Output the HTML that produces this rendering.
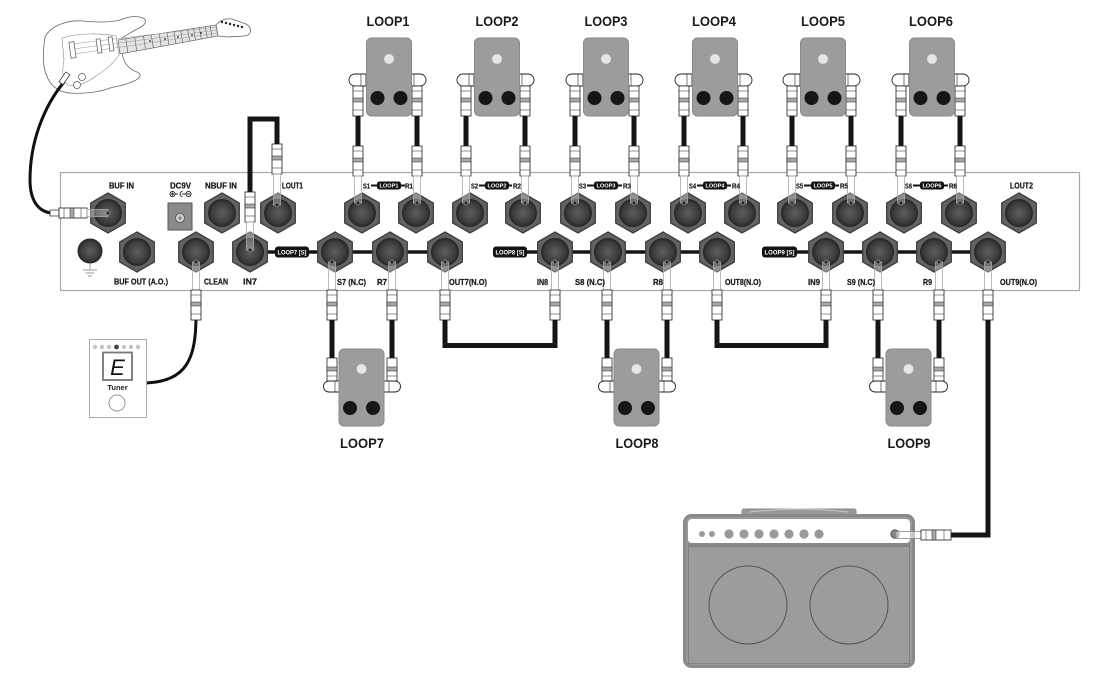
<!DOCTYPE html>
<html><head><meta charset="utf-8">
<style>
html,body{margin:0;padding:0;background:#fff;}
svg{display:block;}
.t{font-family:"Liberation Sans Narrow","Liberation Sans",sans-serif;font-weight:bold;font-size:8.5px;fill:#1a1a1a;stroke:#1a1a1a;stroke-width:.25px;}
.ts{font-family:"Liberation Sans Narrow","Liberation Sans",sans-serif;font-weight:bold;font-size:7px;fill:#1a1a1a;stroke:#1a1a1a;stroke-width:.2px;}
.tg{font-family:"Liberation Sans Narrow","Liberation Sans",sans-serif;font-weight:bold;fill:#fff;}
.lp{font-family:"Liberation Sans",sans-serif;font-weight:bold;font-size:14px;fill:#1a1a1a;}
</style></head><body>
<svg width="1100" height="687" viewBox="0 0 1100 687" xmlns="http://www.w3.org/2000/svg" xmlns:xlink="http://www.w3.org/1999/xlink">
<defs>
<radialGradient id="jg" cx="50%" cy="50%" r="50%">
<stop offset="0%" stop-color="#5e5e5e"/><stop offset="75%" stop-color="#3c3c3c"/><stop offset="100%" stop-color="#2a2a2a"/>
</radialGradient>
<g id="jack">
<polygon points="0,-20 17.3,-10 17.3,10 0,20 -17.3,10 -17.3,-10" fill="#626262" stroke="#3e3e3e" stroke-width="1.3"/>
<circle r="13.5" fill="url(#jg)" stroke="#262626" stroke-width="1"/>
</g>
<g id="pb">
<rect x="-5" y="0" width="10" height="30" fill="#fff" stroke="#222" stroke-width=".8"/>
<rect x="-5" y="12" width="10" height="4" fill="#a8a8a8" stroke="#222" stroke-width=".5"/>
<line x1="-5" x2="5" y1="5" y2="5" stroke="#222" stroke-width=".5"/>
<line x1="-5" x2="5" y1="24" y2="24" stroke="#222" stroke-width=".5"/>
</g>
<g id="pbs">
<rect x="-5" y="0" width="10" height="23" fill="#fff" stroke="#222" stroke-width=".8"/>
<rect x="-5" y="9" width="10" height="4" fill="#a8a8a8" stroke="#222" stroke-width=".5"/>
<line x1="-5" x2="5" y1="18" y2="18" stroke="#222" stroke-width=".5"/>
</g>
<g id="cabTL">
<path d="M8,74 H-3 A6,6 0 0 0 -3,86 H8 Z" fill="#fff" stroke="#222" stroke-width=".9"/>
<line x1="3" y1="74" x2="3" y2="86" stroke="#222" stroke-width=".6"/>
<use href="#pb" xlink:href="#pb" y="86"/>
<rect x="-2.5" y="116" width="5" height="30" fill="#151515"/>
<use href="#pb" xlink:href="#pb" y="146"/>
<rect x="-3.5" y="176" width="7" height="27" fill="rgba(255,255,255,.3)" stroke="#aaa" stroke-width=".8"/>
<circle cy="203" r="2" fill="#2a2a2a" stroke="#aaa" stroke-width=".6"/>
</g>
<g id="cabTR">
<path d="M-8,74 H3 A6,6 0 0 1 3,86 H-8 Z" fill="#fff" stroke="#222" stroke-width=".9"/>
<line x1="-3" y1="74" x2="-3" y2="86" stroke="#222" stroke-width=".6"/>
<use href="#pb" xlink:href="#pb" y="86"/>
<rect x="-2.5" y="116" width="5" height="30" fill="#151515"/>
<use href="#pb" xlink:href="#pb" y="146"/>
<rect x="-3.5" y="176" width="7" height="27" fill="rgba(255,255,255,.3)" stroke="#aaa" stroke-width=".8"/>
<circle cy="203" r="2" fill="#2a2a2a" stroke="#aaa" stroke-width=".6"/>
</g>
<g id="plugD">
<rect x="-3.5" y="262" width="7" height="29" fill="rgba(255,255,255,.3)" stroke="#aaa" stroke-width=".8"/>
<circle cy="262" r="2" fill="#2a2a2a" stroke="#aaa" stroke-width=".6"/>
<use href="#pb" xlink:href="#pb" y="290"/>
</g>
<g id="cabBL">
<rect x="-2.5" y="319" width="5" height="40" fill="#151515"/>
<use href="#plugD" xlink:href="#plugD"/>
<use href="#pbs" xlink:href="#pbs" y="358"/>
<path d="M8,381 H-3 A5.5,5.5 0 0 0 -3,392 H8 Z" fill="#fff" stroke="#222" stroke-width=".9"/>
<line x1="3" y1="381" x2="3" y2="392" stroke="#222" stroke-width=".6"/>
</g>
<g id="cabBR">
<rect x="-2.5" y="319" width="5" height="40" fill="#151515"/>
<use href="#plugD" xlink:href="#plugD"/>
<use href="#pbs" xlink:href="#pbs" y="358"/>
<path d="M-8,381 H3 A5.5,5.5 0 0 1 3,392 H-8 Z" fill="#fff" stroke="#222" stroke-width=".9"/>
<line x1="-3" y1="381" x2="-3" y2="392" stroke="#222" stroke-width=".6"/>
</g>
<g id="pedT">
<rect x="-22.5" y="38" width="45" height="78" rx="5" fill="#9c9c9c" stroke="#8a8a8a" stroke-width="1"/>
<circle cx="0" cy="59" r="5" fill="#e6e6e6" stroke="#bbb" stroke-width=".5"/>
<circle cx="-11.5" cy="98" r="7" fill="#161616"/>
<circle cx="11.5" cy="98" r="7" fill="#161616"/>
</g>
<g id="pedB">
<rect x="-22.5" y="349" width="45" height="77" rx="5" fill="#9c9c9c" stroke="#8a8a8a" stroke-width="1"/>
<circle cx="0" cy="369" r="5" fill="#e6e6e6" stroke="#bbb" stroke-width=".5"/>
<circle cx="-11.5" cy="408" r="7" fill="#161616"/>
<circle cx="11.5" cy="408" r="7" fill="#161616"/>
</g>
</defs>

<!-- ===== Guitar ===== -->
<g stroke="#666" stroke-width=".8" fill="#fff">
<path d="M45,37 C52,24 70,20 83,21 C95,22 108,23 120,20 C128,17 135,15 143,18 C147,20 146,24 141,27 C135,30 128,34 122,38 L122,52 C123,60 126,68 137,72 C142,74 141,78 134,81 C126,85 118,86 110,88 C100,92 85,94 70,93 C58,92 50,86 46,74 C42,64 43,50 45,37 Z"/>
<path d="M62,38 C78,33 100,33 116,36 L119,55 C113,64 104,71 96,76 C88,82 78,87 68,85 C62,80 62,70 64,60 Z" stroke="#888" stroke-width=".6"/>
<polygon points="118,40 216,25 218,36 120,54" fill="#e4e4e4" stroke="#555" stroke-width=".6"/>
<path d="M216,25 C220,20 226,18 232,19 L246,24 C251,27 252,32 248,35 C243,37 236,36 228,37 L218,36 Z"/>
</g>
<g stroke="#555" stroke-width=".6">
<line x1="125.8" y1="38.8" x2="127.8" y2="52.6"/><line x1="134.7" y1="37.5" x2="136.7" y2="50.9"/>
<line x1="143.5" y1="36.1" x2="145.5" y2="49.3"/><line x1="151.3" y1="34.9" x2="153.3" y2="47.9"/>
<line x1="159.2" y1="33.7" x2="161.2" y2="46.4"/><line x1="167" y1="32.5" x2="169" y2="45"/>
<line x1="173.9" y1="31.5" x2="175.9" y2="43.7"/><line x1="180.7" y1="30.4" x2="182.7" y2="42.5"/>
<line x1="187.6" y1="29.4" x2="189.6" y2="41.2"/><line x1="193.5" y1="28.5" x2="195.5" y2="40.1"/>
<line x1="199.3" y1="27.6" x2="201.3" y2="39.1"/><line x1="205.2" y1="26.7" x2="207.2" y2="38"/>
<line x1="210.1" y1="25.9" x2="212.1" y2="37.1"/>
</g>
<g stroke="#999" stroke-width=".5">
<line x1="72" y1="44" x2="216" y2="27"/><line x1="73" y1="49" x2="217" y2="30"/><line x1="74" y1="54" x2="217" y2="33"/>
</g>
<g fill="#fff" stroke="#555" stroke-width=".7">
<rect x="70" y="42" width="5" height="16" transform="rotate(-8 72 50)"/>
<rect x="97" y="39" width="4" height="14" transform="rotate(-8 99 46)"/>
<rect x="109" y="37" width="4" height="14" transform="rotate(-8 111 44)"/>
<circle cx="82" cy="77" r="3.5"/><circle cx="77" cy="85" r="3.5"/>
</g>
<g fill="#222">
<circle cx="222" cy="22" r="1.2"/><circle cx="226" cy="23" r="1.2"/><circle cx="230" cy="24" r="1.2"/>
<circle cx="234" cy="25" r="1.2"/><circle cx="238" cy="26" r="1.2"/><circle cx="242" cy="27" r="1.2"/>
<circle cx="150" cy="41" r=".9"/><circle cx="165" cy="39" r=".9"/><circle cx="178" cy="37" r=".9"/><circle cx="192" cy="35" r=".9"/><circle cx="201" cy="33" r=".9"/>
</g>
<!-- guitar cable -->
<path d="M64,82 C45,105 30,140 30,180 C30,200 38,212 52,213" fill="none" stroke="#111" stroke-width="3"/>
<rect x="62" y="72" width="5" height="12" fill="#fff" stroke="#222" stroke-width=".7" transform="rotate(35 64 78)"/>

<!-- ===== Panel ===== -->
<rect x="60.5" y="172.5" width="1019" height="118" fill="none" stroke="#aaa" stroke-width="1.2"/>

<!-- black bus lines -->
<g stroke="#151515" stroke-width="3.5">
<line x1="250" y1="252" x2="335" y2="252"/>
<line x1="335" y1="252" x2="445" y2="252"/>
<line x1="495" y1="252" x2="717" y2="252"/>
<line x1="764" y1="252" x2="988" y2="252"/>
</g>
<!-- top small loop lines -->
<g stroke="#151515" stroke-width="2">
<line x1="371" y1="185.5" x2="405" y2="185.5"/>
<line x1="479" y1="185.5" x2="512" y2="185.5"/>
<line x1="587" y1="185.5" x2="622" y2="185.5"/>
<line x1="697" y1="185.5" x2="731" y2="185.5"/>
<line x1="804" y1="185.5" x2="839" y2="185.5"/>
<line x1="913" y1="185.5" x2="948" y2="185.5"/>
</g>

<!-- DC jack -->
<rect x="168" y="203" width="24" height="27" fill="#8a8a8a" stroke="#555" stroke-width="1"/>
<circle cx="180" cy="218" r="4.5" fill="#cfcfcf" stroke="#555" stroke-width=".8"/>
<circle cx="180" cy="218" r="1.5" fill="#777"/>
<g stroke="#222" stroke-width="1" fill="none">
<circle cx="172.5" cy="194" r="2.5"/><line x1="171" y1="194" x2="174" y2="194"/><line x1="172.5" y1="192.5" x2="172.5" y2="195.5"/>
<line x1="175" y1="194" x2="178" y2="194"/>
<path d="M182.5,191.5 A2.5,2.5 0 1 0 182.5,196.5"/>
<line x1="182" y1="194" x2="186" y2="194"/>
<circle cx="188.5" cy="194" r="2.5"/><line x1="187" y1="194" x2="190" y2="194"/>
</g>

<!-- ground -->
<circle cx="90" cy="251" r="12" fill="url(#jg)" stroke="#262626" stroke-width="1"/>
<g stroke="#999" stroke-width="1">
<line x1="90" y1="264" x2="90" y2="270"/><line x1="83" y1="270" x2="97" y2="270"/>
<line x1="85.5" y1="273" x2="94.5" y2="273"/><line x1="88" y1="276" x2="92" y2="276"/>
</g>

<!-- jacks top row -->
<use href="#jack" xlink:href="#jack" x="108" y="213"/>
<use href="#jack" xlink:href="#jack" x="222" y="213"/>
<use href="#jack" xlink:href="#jack" x="278" y="213"/>
<use href="#jack" xlink:href="#jack" x="362" y="213"/>
<use href="#jack" xlink:href="#jack" x="416" y="213"/>
<use href="#jack" xlink:href="#jack" x="470" y="213"/>
<use href="#jack" xlink:href="#jack" x="523" y="213"/>
<use href="#jack" xlink:href="#jack" x="578" y="213"/>
<use href="#jack" xlink:href="#jack" x="633" y="213"/>
<use href="#jack" xlink:href="#jack" x="688" y="213"/>
<use href="#jack" xlink:href="#jack" x="742" y="213"/>
<use href="#jack" xlink:href="#jack" x="795" y="213"/>
<use href="#jack" xlink:href="#jack" x="850" y="213"/>
<use href="#jack" xlink:href="#jack" x="904" y="213"/>
<use href="#jack" xlink:href="#jack" x="959" y="213"/>
<use href="#jack" xlink:href="#jack" x="1019" y="213"/>
<!-- jacks bottom row -->
<use href="#jack" xlink:href="#jack" x="137" y="252"/>
<use href="#jack" xlink:href="#jack" x="196" y="252"/>
<use href="#jack" xlink:href="#jack" x="250" y="252"/>
<use href="#jack" xlink:href="#jack" x="335" y="252"/>
<use href="#jack" xlink:href="#jack" x="390" y="252"/>
<use href="#jack" xlink:href="#jack" x="445" y="252"/>
<use href="#jack" xlink:href="#jack" x="555" y="252"/>
<use href="#jack" xlink:href="#jack" x="608" y="252"/>
<use href="#jack" xlink:href="#jack" x="663" y="252"/>
<use href="#jack" xlink:href="#jack" x="717" y="252"/>
<use href="#jack" xlink:href="#jack" x="826" y="252"/>
<use href="#jack" xlink:href="#jack" x="880" y="252"/>
<use href="#jack" xlink:href="#jack" x="934" y="252"/>
<use href="#jack" xlink:href="#jack" x="988" y="252"/>

<!-- BUF IN guitar plug -->
<rect x="50" y="210" width="9" height="6" fill="#fff" stroke="#222" stroke-width=".7"/>
<rect x="59" y="208" width="28" height="10" fill="#fff" stroke="#222" stroke-width=".8"/>
<rect x="70" y="208" width="4" height="10" fill="#a8a8a8" stroke="#222" stroke-width=".5"/>
<line x1="64" y1="208" x2="64" y2="218" stroke="#222" stroke-width=".5"/>
<line x1="81" y1="208" x2="81" y2="218" stroke="#222" stroke-width=".5"/>
<rect x="87" y="209.5" width="21" height="7" fill="rgba(255,255,255,.3)" stroke="#aaa" stroke-width=".8"/>
<circle cx="108" cy="213" r="2" fill="#2a2a2a" stroke="#aaa" stroke-width=".6"/>

<!-- IN7 - LOUT1 cable -->
<path d="M250,194 V119 H277 V146" fill="none" stroke="#151515" stroke-width="5"/>
<use href="#pb" xlink:href="#pb" x="250" y="192"/>
<rect x="246.5" y="222" width="7" height="28" fill="rgba(255,255,255,.3)" stroke="#aaa" stroke-width=".8"/>
<circle cx="250" cy="250" r="2" fill="#2a2a2a" stroke="#aaa" stroke-width=".6"/>
<use href="#pb" xlink:href="#pb" x="277" y="144"/>
<rect x="273.5" y="174" width="7" height="31" fill="rgba(255,255,255,.3)" stroke="#aaa" stroke-width=".8"/>
<circle cx="277" cy="205" r="2" fill="#2a2a2a" stroke="#aaa" stroke-width=".6"/>

<!-- CLEAN to tuner -->
<path d="M196,316 C196,360 186,381 146,383" fill="none" stroke="#111" stroke-width="3"/>
<use href="#plugD" xlink:href="#plugD" x="196"/>

<!-- U cables -->
<path d="M445,318 V345.5 H555 V318" fill="none" stroke="#151515" stroke-width="5"/>
<use href="#plugD" xlink:href="#plugD" x="445"/>
<use href="#plugD" xlink:href="#plugD" x="555"/>
<path d="M717,318 V345.5 H826 V318" fill="none" stroke="#151515" stroke-width="5"/>
<use href="#plugD" xlink:href="#plugD" x="717"/>
<use href="#plugD" xlink:href="#plugD" x="826"/>

<!-- OUT9 to amp -->
<path d="M988,318 V535 H950" fill="none" stroke="#151515" stroke-width="5"/>
<use href="#plugD" xlink:href="#plugD" x="988"/>

<!-- top loop cables -->
<use href="#cabTL" xlink:href="#cabTL" x="358"/><use href="#cabTR" xlink:href="#cabTR" x="417"/>
<use href="#cabTL" xlink:href="#cabTL" x="466"/><use href="#cabTR" xlink:href="#cabTR" x="525"/>
<use href="#cabTL" xlink:href="#cabTL" x="575"/><use href="#cabTR" xlink:href="#cabTR" x="634"/>
<use href="#cabTL" xlink:href="#cabTL" x="684"/><use href="#cabTR" xlink:href="#cabTR" x="743"/>
<use href="#cabTL" xlink:href="#cabTL" x="792"/><use href="#cabTR" xlink:href="#cabTR" x="851"/>
<use href="#cabTL" xlink:href="#cabTL" x="901"/><use href="#cabTR" xlink:href="#cabTR" x="960"/>
<!-- top pedals -->
<use href="#pedT" xlink:href="#pedT" x="389"/>
<use href="#pedT" xlink:href="#pedT" x="497"/>
<use href="#pedT" xlink:href="#pedT" x="606"/>
<use href="#pedT" xlink:href="#pedT" x="715"/>
<use href="#pedT" xlink:href="#pedT" x="823"/>
<use href="#pedT" xlink:href="#pedT" x="932"/>

<!-- bottom loop cables -->
<use href="#cabBL" xlink:href="#cabBL" x="332"/><use href="#cabBR" xlink:href="#cabBR" x="392"/>
<use href="#cabBL" xlink:href="#cabBL" x="607"/><use href="#cabBR" xlink:href="#cabBR" x="667"/>
<use href="#cabBL" xlink:href="#cabBL" x="878"/><use href="#cabBR" xlink:href="#cabBR" x="939"/>
<use href="#pedB" xlink:href="#pedB" x="361.5"/>
<use href="#pedB" xlink:href="#pedB" x="636.5"/>
<use href="#pedB" xlink:href="#pedB" x="908.5"/>

<!-- LOOP labels -->
<text class="lp" x="388" y="26" text-anchor="middle" textLength="43" lengthAdjust="spacingAndGlyphs">LOOP1</text>
<text class="lp" x="497" y="26" text-anchor="middle" textLength="43" lengthAdjust="spacingAndGlyphs">LOOP2</text>
<text class="lp" x="606" y="26" text-anchor="middle" textLength="43" lengthAdjust="spacingAndGlyphs">LOOP3</text>
<text class="lp" x="714" y="26" text-anchor="middle" textLength="44" lengthAdjust="spacingAndGlyphs">LOOP4</text>
<text class="lp" x="823" y="26" text-anchor="middle" textLength="44" lengthAdjust="spacingAndGlyphs">LOOP5</text>
<text class="lp" x="931" y="26" text-anchor="middle" textLength="44" lengthAdjust="spacingAndGlyphs">LOOP6</text>
<text class="lp" x="362" y="448" text-anchor="middle" textLength="44" lengthAdjust="spacingAndGlyphs">LOOP7</text>
<text class="lp" x="637" y="448" text-anchor="middle" textLength="43" lengthAdjust="spacingAndGlyphs">LOOP8</text>
<text class="lp" x="909" y="448" text-anchor="middle" textLength="43" lengthAdjust="spacingAndGlyphs">LOOP9</text>

<!-- tags -->
<g fill="#111">
<rect x="275" y="246.5" width="34" height="11" rx="3"/>
<rect x="493" y="246.5" width="34" height="11" rx="3"/>
<rect x="762" y="246.5" width="35" height="11" rx="3"/>
<rect x="377" y="181.5" width="24" height="8" rx="2.5"/>
<rect x="485" y="181.5" width="24" height="8" rx="2.5"/>
<rect x="594" y="181.5" width="24" height="8" rx="2.5"/>
<rect x="703" y="181.5" width="24" height="8" rx="2.5"/>
<rect x="811" y="181.5" width="24" height="8" rx="2.5"/>
<rect x="920" y="181.5" width="24" height="8" rx="2.5"/>
</g>
<g class="tg" font-size="6.5">
<text x="292" y="254.5" text-anchor="middle" textLength="29" lengthAdjust="spacingAndGlyphs">LOOP7 [S]</text>
<text x="510" y="254.5" text-anchor="middle" textLength="29" lengthAdjust="spacingAndGlyphs">LOOP8 [S]</text>
<text x="779.5" y="254.5" text-anchor="middle" textLength="30" lengthAdjust="spacingAndGlyphs">LOOP9 [S]</text>
</g>
<g class="tg" font-size="5.5">
<text x="389" y="187.7" text-anchor="middle" textLength="19" lengthAdjust="spacingAndGlyphs">LOOP1</text>
<text x="497" y="187.7" text-anchor="middle" textLength="19" lengthAdjust="spacingAndGlyphs">LOOP2</text>
<text x="606" y="187.7" text-anchor="middle" textLength="19" lengthAdjust="spacingAndGlyphs">LOOP3</text>
<text x="715" y="187.7" text-anchor="middle" textLength="19" lengthAdjust="spacingAndGlyphs">LOOP4</text>
<text x="823" y="187.7" text-anchor="middle" textLength="19" lengthAdjust="spacingAndGlyphs">LOOP5</text>
<text x="932" y="187.7" text-anchor="middle" textLength="19" lengthAdjust="spacingAndGlyphs">LOOP6</text>
</g>

<!-- small S/R labels -->
<g class="ts">
<text x="363" y="188.5" textLength="7" lengthAdjust="spacingAndGlyphs">S1</text>
<text x="405" y="188.5" textLength="8" lengthAdjust="spacingAndGlyphs">R1</text>
<text x="471" y="188.5" textLength="7" lengthAdjust="spacingAndGlyphs">S2</text>
<text x="513" y="188.5" textLength="8" lengthAdjust="spacingAndGlyphs">R2</text>
<text x="579" y="188.5" textLength="7" lengthAdjust="spacingAndGlyphs">S3</text>
<text x="623" y="188.5" textLength="8" lengthAdjust="spacingAndGlyphs">R3</text>
<text x="689" y="188.5" textLength="7" lengthAdjust="spacingAndGlyphs">S4</text>
<text x="732" y="188.5" textLength="8" lengthAdjust="spacingAndGlyphs">R4</text>
<text x="796" y="188.5" textLength="7" lengthAdjust="spacingAndGlyphs">S5</text>
<text x="840" y="188.5" textLength="8" lengthAdjust="spacingAndGlyphs">R5</text>
<text x="905" y="188.5" textLength="7" lengthAdjust="spacingAndGlyphs">S6</text>
<text x="949" y="188.5" textLength="8" lengthAdjust="spacingAndGlyphs">R6</text>
</g>

<!-- panel labels -->
<g class="t">
<text x="109" y="188.5" textLength="25" lengthAdjust="spacingAndGlyphs">BUF IN</text>
<text x="170" y="188.5" textLength="21" lengthAdjust="spacingAndGlyphs">DC9V</text>
<text x="205" y="188.5" textLength="32" lengthAdjust="spacingAndGlyphs">NBUF IN</text>
<text x="282" y="188.5" textLength="21" lengthAdjust="spacingAndGlyphs">LOUT1</text>
<text x="1010" y="188.5" textLength="23" lengthAdjust="spacingAndGlyphs">LOUT2</text>
<text x="114" y="284.5" textLength="54" lengthAdjust="spacingAndGlyphs">BUF OUT (A.O.)</text>
<text x="204" y="284.5" textLength="24" lengthAdjust="spacingAndGlyphs">CLEAN</text>
<text x="243" y="284.5" textLength="14" lengthAdjust="spacingAndGlyphs">IN7</text>
<text x="337" y="285" textLength="29" lengthAdjust="spacingAndGlyphs">S7 (N.C)</text>
<text x="377" y="285" textLength="10" lengthAdjust="spacingAndGlyphs">R7</text>
<text x="449" y="285" textLength="38" lengthAdjust="spacingAndGlyphs">OUT7(N.O)</text>
<text x="537" y="285" textLength="11" lengthAdjust="spacingAndGlyphs">IN8</text>
<text x="575" y="285" textLength="30" lengthAdjust="spacingAndGlyphs">S8 (N.C)</text>
<text x="653" y="285" textLength="10" lengthAdjust="spacingAndGlyphs">R8</text>
<text x="725" y="285" textLength="36" lengthAdjust="spacingAndGlyphs">OUT8(N.O)</text>
<text x="808" y="285" textLength="12" lengthAdjust="spacingAndGlyphs">IN9</text>
<text x="847" y="285" textLength="28" lengthAdjust="spacingAndGlyphs">S9 (N.C)</text>
<text x="923" y="285" textLength="9" lengthAdjust="spacingAndGlyphs">R9</text>
<text x="1000" y="285" textLength="37" lengthAdjust="spacingAndGlyphs">OUT9(N.O)</text>
</g>

<!-- ===== Tuner ===== -->
<rect x="89.5" y="339.5" width="57" height="78" fill="#fff" stroke="#aaa" stroke-width="1"/>
<g fill="#c4c4c4">
<circle cx="95" cy="347" r="2.2"/><circle cx="102" cy="347" r="2.2"/><circle cx="109" cy="347" r="2.2"/>
<circle cx="116.5" cy="347" r="2.4" fill="#444"/>
<circle cx="124" cy="347" r="2.2"/><circle cx="131" cy="347" r="2.2"/><circle cx="138" cy="347" r="2.2"/>
</g>
<rect x="103" y="352.5" width="29" height="27.5" fill="#fff" stroke="#777" stroke-width="1.8"/>
<text x="117.5" y="375" text-anchor="middle" font-family="Liberation Sans, sans-serif" font-size="22" font-style="italic" fill="#111">E</text>
<text x="117.5" y="390" text-anchor="middle" font-family="Liberation Sans, sans-serif" font-weight="bold" font-size="7.5" fill="#222">Tuner</text>
<circle cx="117" cy="403" r="8" fill="#fff" stroke="#999" stroke-width="1"/>

<!-- ===== Amp ===== -->
<rect x="742" y="509" width="114" height="8" rx="2" fill="#9a9a9a" stroke="#888" stroke-width="1"/>
<path d="M750,512 Q799,506 848,512" fill="none" stroke="#c8c8c8" stroke-width="1"/>
<rect x="684.5" y="515.5" width="229" height="151" rx="7" fill="#9a9a9a" stroke="#8a8a8a" stroke-width="3"/>
<rect x="688" y="519" width="222" height="24" rx="4" fill="#fff"/>
<rect x="688" y="543" width="222" height="3" fill="#888"/>
<rect x="688.5" y="546.5" width="221" height="117" fill="#9c9c9c" stroke="#7a7a7a" stroke-width=".8"/>
<circle cx="748" cy="605" r="39" fill="none" stroke="#555" stroke-width="1"/>
<circle cx="849" cy="605" r="39" fill="none" stroke="#555" stroke-width="1"/>
<g fill="#9a9a9a">
<circle cx="702" cy="534" r="3"/><circle cx="712" cy="534" r="3"/>
<circle cx="729" cy="534" r="4.6"/><circle cx="744" cy="534" r="4.6"/><circle cx="759" cy="534" r="4.6"/>
<circle cx="774" cy="534" r="4.6"/><circle cx="789" cy="534" r="4.6"/><circle cx="804" cy="534" r="4.6"/>
<circle cx="819" cy="534" r="4.6"/>
</g>
<circle cx="895" cy="534" r="4.2" fill="#888" stroke="#444" stroke-width=".8"/>
<!-- amp plug -->
<rect x="896" y="531.5" width="25" height="7" fill="rgba(255,255,255,.5)" stroke="#888" stroke-width=".8"/>
<rect x="921" y="530" width="30" height="10" fill="#fff" stroke="#222" stroke-width=".8"/>
<rect x="932" y="530" width="4" height="10" fill="#a8a8a8" stroke="#222" stroke-width=".5"/>
<line x1="926" y1="530" x2="926" y2="540" stroke="#222" stroke-width=".5"/>
<line x1="944" y1="530" x2="944" y2="540" stroke="#222" stroke-width=".5"/>
</svg>
</body></html>
